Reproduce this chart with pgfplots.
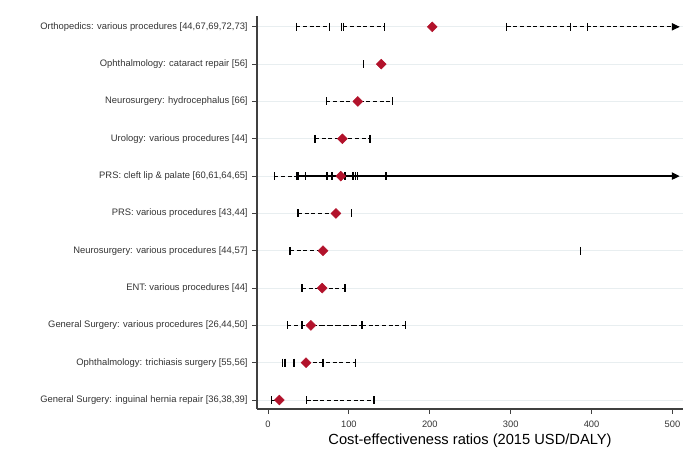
\documentclass[border=0pt]{standalone}
\usepackage{fontspec}
\setmainfont{Liberation Sans}
\usepackage{pgfplots}
\pgfplotsset{compat=1.18}
\usetikzlibrary{arrows.meta}
\definecolor{diam}{RGB}{178,18,43}
\definecolor{gridc}{RGB}{232,238,240}
\begin{document}
\begin{tikzpicture}
\useasboundingbox (0,0) rectangle (525pt,350.25pt);
\begin{axis}[
  at={(192.75pt,43.5pt)}, anchor=south west,
  width=319.5pt, height=294.75pt, scale only axis,
  xmin=-13.6, xmax=513, ymin=0.76, ymax=11.29,
  axis lines*=left,
  axis line style={black!75, line width=0.9pt},
  tick align=outside, major tick length=3.5pt,
  every tick/.style={black!75, line width=0.7pt},
  xtick={0,100,200,300,400,500},
  ytick={1,2,3,4,5,6,7,8,9,10,11},
  yticklabels={
    {General Surgery: inguinal hernia repair [36,38,39]},
    {Ophthalmology: trichiasis surgery [55,56]},
    {General Surgery: various procedures [26,44,50]},
    {ENT: various procedures [44]},
    {Neurosurgery: various procedures [44,57]},
    {PRS: various procedures [43,44]},
    {PRS: cleft lip \& palate [60,61,64,65]},
    {Urology: various procedures [44]},
    {Neurosurgery: hydrocephalus [66]},
    {Ophthalmology: cataract repair [56]},
    {Orthopedics: various procedures [44,67,69,72,73]}},
  yticklabel style={font=\fontsize{7.05}{8}\selectfont, text=black!80},
  xticklabel style={font=\fontsize{7}{8}\selectfont, text=black!80, yshift=-2pt},
  /pgf/number format/assume math mode=true,
  ymajorgrids, grid style={gridc, line width=0.8pt},
  xlabel={Cost-effectiveness ratios (2015 USD/DALY)},
  xlabel style={font=\fontsize{11}{13}\selectfont, yshift=2pt},
  clip=false,
]
\pgfplotsset{
  dsh/.style={black, line width=0.8pt, dash pattern=on 3pt off 2pt, mark=none},
  tk/.style={only marks, mark=|, mark size=3pt, black, mark options={line width=1pt, solid}},
  dm/.style={only marks, mark=square*, mark size=2.6pt, diam, mark options={solid, rotate=45, fill=diam, draw=diam}},
}
% --- Orthopedics (11)
\addplot[dsh] coordinates {(35,11) (76,11)};
\addplot[dsh] coordinates {(93,11) (144,11)};
\addplot[dsh, -{Triangle[length=6pt,width=5.5pt]}] coordinates {(295,11) (509,11)};
\addplot[tk] coordinates {(35,11) (76,11) (91,11) (93,11) (144,11) (295,11) (374,11) (395,11)};
\addplot[dm] coordinates {(203,11)};
% --- Cataract (10)
\addplot[tk] coordinates {(118,10)};
\addplot[dm] coordinates {(140,10)};
% --- Hydrocephalus (9)
\addplot[dsh] coordinates {(72,9) (154,9)};
\addplot[tk] coordinates {(72,9) (154,9)};
\addplot[dm] coordinates {(111,9)};
% --- Urology (8)
\addplot[dsh] coordinates {(58,8) (126,8)};
\addplot[tk] coordinates {(58,8) (126,8)};
\addplot[dm] coordinates {(92,8)};
% --- PRS cleft lip (7)
\addplot[dsh] coordinates {(8,7) (35,7)};
\addplot[black, line width=1pt, mark=none, -{Triangle[length=6pt,width=5.5pt]}] coordinates {(35,7) (509,7)};
\addplot[tk] coordinates {(8,7) (35,7) (37,7) (46,7) (73,7) (79,7) (95,7) (96,7) (105,7) (108,7) (111,7) (146,7)};
\addplot[dm] coordinates {(90,7)};
% --- PRS various (6)
\addplot[dsh] coordinates {(37,6) (84,6)};
\addplot[tk] coordinates {(37,6) (103,6)};
\addplot[dm] coordinates {(84,6)};
% --- Neurosurgery various (5)
\addplot[dsh] coordinates {(27,5) (68,5)};
\addplot[tk] coordinates {(27,5) (386,5)};
\addplot[dm] coordinates {(68,5)};
% --- ENT (4)
\addplot[dsh] coordinates {(42,4) (95,4)};
\addplot[tk] coordinates {(42,4) (95,4)};
\addplot[dm] coordinates {(67,4)};
% --- General surgery various (3)
\addplot[dsh] coordinates {(24,3) (53,3)};
\addplot[black, line width=0.8pt, dash pattern=on 4.5pt off 1.5pt] coordinates {(53,3) (116,3)};
\addplot[dsh] coordinates {(116,3) (170,3)};
\addplot[tk] coordinates {(24,3) (42,3) (116,3) (170,3)};
\addplot[dm] coordinates {(53,3)};
% --- Trichiasis (2)
\addplot[dsh] coordinates {(47,2) (108,2)};
\addplot[tk] coordinates {(18,2) (21,2) (32,2) (68,2) (108,2)};
\addplot[dm] coordinates {(47,2)};
% --- Inguinal hernia (1)
\addplot[black, line width=0.8pt] coordinates {(4,1) (14,1)};
\addplot[dsh] coordinates {(48,1) (131,1)};
\addplot[tk] coordinates {(4,1) (48,1) (131,1)};
\addplot[dm] coordinates {(14,1)};
\end{axis}
\end{tikzpicture}
\end{document}
